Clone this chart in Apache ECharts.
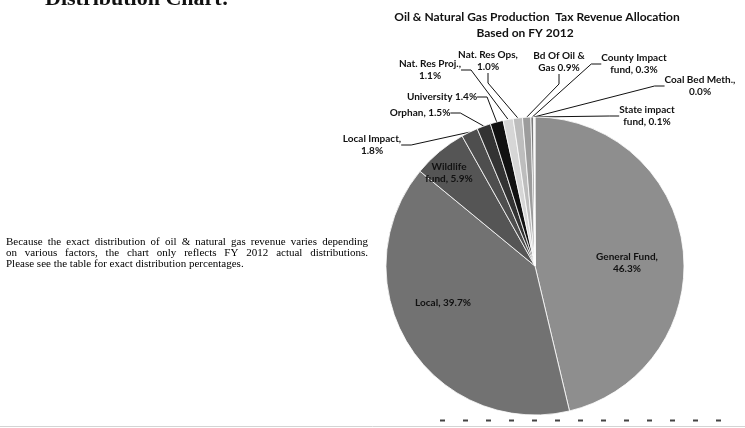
<!DOCTYPE html>
<html>
<head>
<meta charset="utf-8">
<script src="https://cdn.jsdelivr.net/npm/echarts@6/dist/echarts.min.js"></script>
<style>
html,body{margin:0;padding:0;background:#fff;}
#chart{width:745px;height:428px;}
</style>
</head>
<body>
<div id="chart"></div>
<script>
// ---- data ----
var categories = ['General Fund', 'Local', 'Wildlife fund', 'Local Impact', 'Orphan', 'University',
  'Nat. Res Proj.', 'Nat. Res Ops', 'Bd Of Oil & Gas', 'County Impact fund', 'Coal Bed Meth.', 'State impact fund'];
var shares = [46.3, 39.7, 5.9, 1.8, 1.5, 1.4, 1.1, 1.0, 0.9, 0.3, 0.04, 0.1];
var labelTemplates = ['General Fund,\n{p}', 'Local, {p}', 'Wildlife\nfund, {p}', 'Local Impact,\n{p}',
  'Orphan, {p}', 'University {p}', 'Nat. Res Proj.,\n{p}', 'Nat. Res Ops,\n{p}', 'Bd Of Oil &\nGas {p}',
  'County Impact\nfund, {p}', 'Coal Bed Meth.,\n{p}', 'State impact\nfund, {p}'];
var titleLines = ['Oil & Natural Gas Production  Tax Revenue Allocation', 'Based on FY 2012'];
var noteLines = ['Because the exact distribution of oil & natural gas revenue varies depending',
  'on various factors, the chart only reflects FY 2012 actual distributions.',
  'Please see the table for exact distribution percentages.'];
var heading = 'Distribution Chart:';

// ---- style ----
var sliceColors = ['#8e8e8e', '#727272', '#555555', '#4e4e4e', '#333333', '#111111',
  '#d6d6d6', '#bdbdbd', '#9c9c9c', '#7a7a7a', '#444444', '#e6e6e6'];
var insideIdx = [0, 1, 2];
var labelPos = [[627, 263], [443, 303], [449, 173], [372, 145], [420, 113], [442, 97], [430, 70],
  [488, 61], [559, 62], [634, 64], [700, 86], [647, 116]];

var chart = echarts.init(document.getElementById('chart'), null, {renderer: 'canvas'});

var data = categories.map(function (c, i) {
  var inside = insideIdx.indexOf(i) >= 0;
  return {
    name: c,
    value: shares[i],
    itemStyle: {color: sliceColors[i]},
    label: {position: inside ? 'inside' : 'outside'},
    labelLine: {show: !inside}
  };
});

// justified note text
var noteFont = '11px "Liberation Serif"';
var ctx = document.createElement('canvas').getContext('2d');
ctx.font = noteFont;
var noteX0 = 6, noteX1 = 368, noteY = [242, 253, 264];
var graphics = [];
noteLines.forEach(function (line, li) {
  var justify = li < noteLines.length - 1;
  if (!justify) {
    graphics.push({type: 'text', x: noteX0, y: noteY[li],
      style: {text: line, font: noteFont, fill: '#000', verticalAlign: 'middle'}});
    return;
  }
  var words = line.split(' ');
  var total = 0;
  words.forEach(function (w) { total += ctx.measureText(w).width; });
  var gap = (noteX1 - noteX0 - total) / (words.length - 1);
  var x = noteX0;
  words.forEach(function (w) {
    graphics.push({type: 'text', x: x, y: noteY[li], style: {text: w, font: noteFont, fill: '#000', verticalAlign: 'middle'}});
    x += ctx.measureText(w).width + gap;
  });
});
graphics.push({type: 'text', x: 45, y: 10, style: {text: heading, font: 'bold 22px "Liberation Serif"', fill: '#111', verticalAlign: 'bottom'}});
graphics.push({type: 'text', x: 537, y: 17, style: {text: titleLines[0], font: 'bold 12px Lato', fill: '#111', align: 'center', verticalAlign: 'middle'}});
graphics.push({type: 'text', x: 525, y: 33, style: {text: titleLines[1], font: 'bold 12px Lato', fill: '#111', align: 'center', verticalAlign: 'middle'}});
graphics.push({type: 'line', shape: {x1: 0, y1: 426.5, x2: 745, y2: 426.5}, style: {stroke: '#d4d4d4', lineWidth: 1}});
graphics.push({type: 'line', shape: {x1: 440, y1: 420.5, x2: 722, y2: 420.5}, style: {stroke: '#444', lineWidth: 2, lineDash: [5, 18]}});

chart.setOption({
  animation: false,
  backgroundColor: '#fff',
  graphic: graphics,
  series: [{
    type: 'pie',
    center: [535, 266],
    radius: 149,
    startAngle: 90,
    clockwise: true,
    avoidLabelOverlap: false,
    data: data,
    itemStyle: {borderColor: '#fff', borderWidth: 0.8},
    label: {
      color: '#111',
      fontFamily: 'Lato',
      fontWeight: 'bold',
      fontSize: 10,
      lineHeight: 12,
      align: 'center',
      formatter: function (p) {
        return labelTemplates[p.dataIndex].replace('{p}', shares[p.dataIndex].toFixed(1) + '%');
      }
    },
    labelLine: {show: true, length: 10, length2: 10, lineStyle: {color: '#111', width: 1}},
    labelLayout: function (p) {
      var pos = labelPos[p.dataIndex];
      return {x: pos[0], y: pos[1], align: 'center', verticalAlign: 'middle'};
    },
    emphasis: {disabled: true}
  }]
});
</script>
</body>
</html>
